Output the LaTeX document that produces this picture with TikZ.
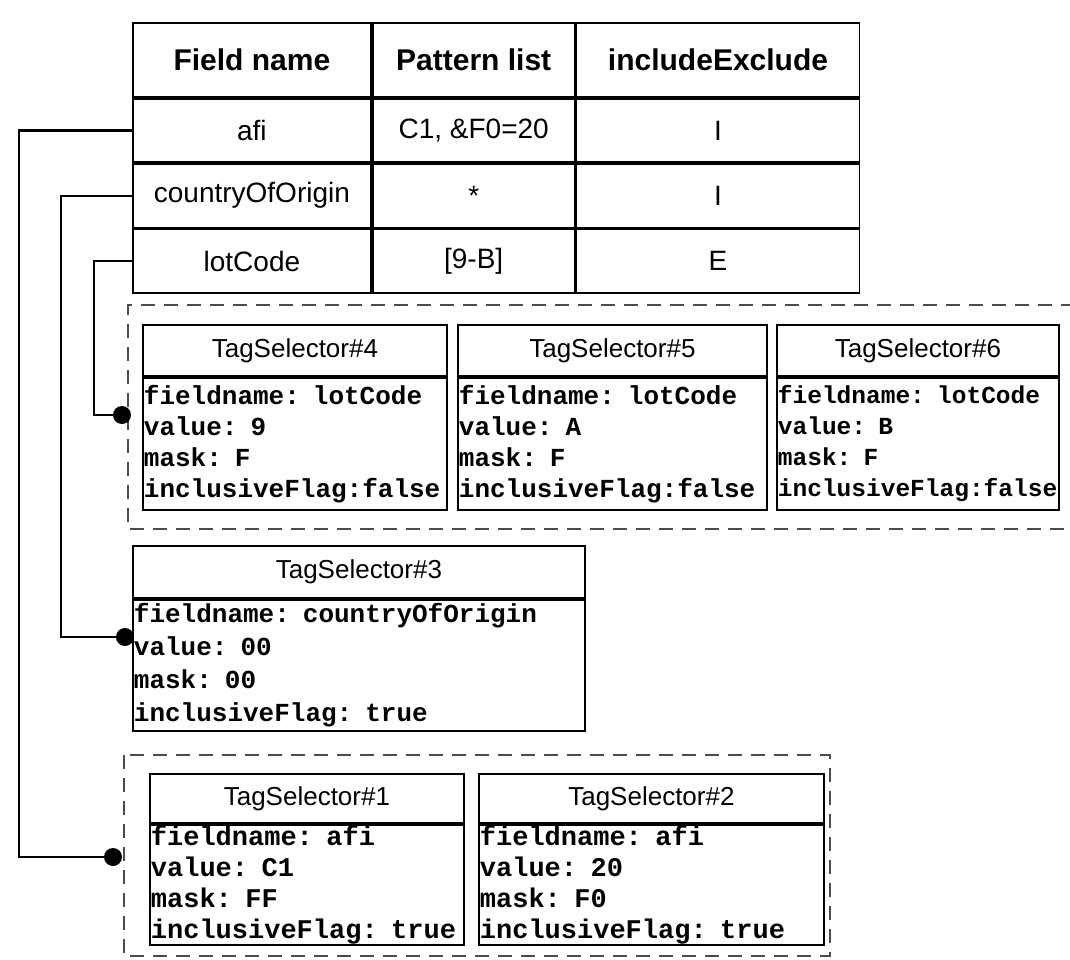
\documentclass[tikz,border=0pt]{standalone}
\usepackage{fontspec}
\setmainfont{Liberation Sans}
\setmonofont{Liberation Mono}
\usetikzlibrary{positioning}
\tikzset{
  hcell/.style={draw, line width=1.8pt, minimum height=74pt, inner sep=0pt,
                font=\fontsize{30}{32}\selectfont\bfseries},
  cell/.style={draw, line width=1.8pt, minimum height=63.5pt, inner sep=0pt,
               font=\fontsize{28}{30}\selectfont},
  colA/.style={minimum width=238pt},
  colB/.style={minimum width=202pt},
  colC/.style={minimum width=283pt},
  selhead/.style={draw, line width=1.8pt, anchor=north west, inner sep=0pt,
                  minimum height=51pt, font=\fontsize{26}{28}\selectfont},
  selbody/.style={draw, line width=1.8pt, anchor=north west, align=left,
                  inner xsep=1pt, inner ysep=0pt, minimum height=132pt,
                  font=\ttfamily\bfseries\fontsize{26}{31}\selectfont},
  grp/.style={line width=1.4pt, black!70, dash pattern=on 14pt off 9pt},
  link/.style={line width=2.4pt},
  dot/.style={circle, fill=black, inner sep=0pt, minimum size=18pt},
}

\begin{document}
\begin{tikzpicture}[x=1pt, y=-1pt]
  \useasboundingbox (0,0) rectangle (1070,960);

  % pattern table
  \node[hcell, colA, anchor=north west] (h1) at (132,22) {Field name};
  \node[hcell, colB, right=0pt of h1] (h2) {Pattern list};
  \node[hcell, colC, right=0pt of h2] (h3) {includeExclude};
  \node[cell, colA, below=0pt of h1] (afi) {afi};
  \node[cell, colB, right=0pt of afi] (afip) {C1, \&F0=20};
  \node[cell, colC, right=0pt of afip] (afie) {I};
  \node[cell, colA, below=0pt of afi] (coo) {countryOfOrigin};
  \node[cell, colB, right=0pt of coo] (coop) {*};
  \node[cell, colC, right=0pt of coop] (cooe) {I};
  \node[cell, colA, below=0pt of coo] (lot) {lotCode};
  \node[cell, colB, right=0pt of lot] (lotp) {[9-B]};
  \node[cell, colC, right=0pt of lotp] (lote) {E};

  % lotCode group
  \draw[grp] (1075,305) -- (128,305) -- (128,529) -- (1075,529);
  \node[selhead, minimum width=304pt] (ts4) at (142,324) {TagSelector\#4};
  \node[selbody, text width=302pt] (ts4b) at (ts4.south west)
    {fieldname: lotCode\\value: 9\\mask: F\\inclusiveFlag:false};
  \node[selhead, minimum width=309pt] (ts5) at (457,324) {TagSelector\#5};
  \node[selbody, text width=307pt] (ts5b) at (ts5.south west)
    {fieldname: lotCode\\value: A\\mask: F\\inclusiveFlag:false};
  \node[selhead, minimum width=282pt] (ts6) at (776,324) {TagSelector\#6};
  \node[selbody, text width=280pt, font=\ttfamily\bfseries\fontsize{24.5}{31}\selectfont]
    (ts6b) at (ts6.south west)
    {fieldname: lotCode\\value: B\\mask: F\\inclusiveFlag:false};

  % countryOfOrigin
  \node[selhead, minimum width=452pt, minimum height=52pt] (ts3) at (132,545) {TagSelector\#3};
  \node[selbody, text width=450pt, minimum height=131pt,
        font=\ttfamily\bfseries\fontsize{26}{33}\selectfont] (ts3b) at (ts3.south west)
    {fieldname: countryOfOrigin\\value: 00\\mask: 00\\inclusiveFlag: true};

  % afi group
  \draw[grp] (124,755) rectangle (830,956);
  \node[selhead, minimum width=314pt, minimum height=49pt] (ts1) at (149,773) {TagSelector\#1};
  \node[selbody, text width=312pt, minimum height=120pt,
        font=\ttfamily\bfseries\fontsize{27}{31}\selectfont] (ts1b) at (ts1.south west)
    {fieldname: afi\\value: C1\\mask: FF\\inclusiveFlag: true};
  \node[selhead, minimum width=345pt, minimum height=49pt] (ts2) at (478,773) {TagSelector\#2};
  \node[selbody, text width=343pt, minimum height=120pt,
        font=\ttfamily\bfseries\fontsize{27}{31}\selectfont] (ts2b) at (ts2.south west)
    {fieldname: afi\\value: 20\\mask: F0\\inclusiveFlag: true};

  % links from the table rows
  \node[dot] (d1) at (113,857) {};
  \node[dot] (d3) at (125,637) {};
  \node[dot] (d4) at (122,415) {};
  \coordinate (k1) at (19,0);
  \coordinate (k3) at (61,0);
  \coordinate (k4) at (94,0);
  \draw[link] (afi.west) -- (afi.west -| k1) |- (d1);
  \draw[link] (coo.west) -- (coo.west -| k3) |- (d3);
  \draw[link] (lot.west) -- (lot.west -| k4) |- (d4);
\end{tikzpicture}
\end{document}
